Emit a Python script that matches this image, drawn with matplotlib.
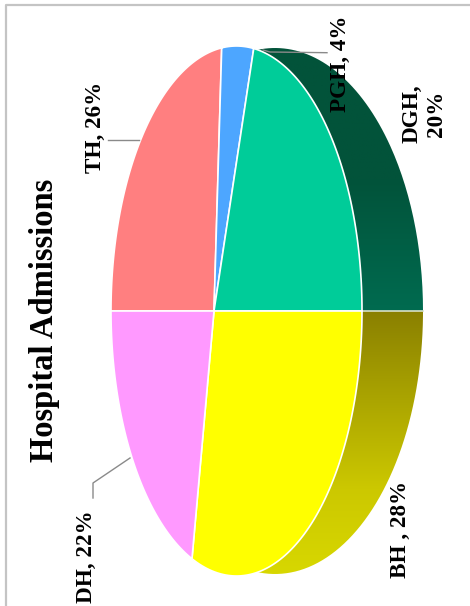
import numpy as np
import matplotlib
matplotlib.use('Agg')
import matplotlib.pyplot as plt
from matplotlib.colors import LinearSegmentedColormap
from matplotlib.patches import PathPatch
from matplotlib.path import Path

labels = ['TH, 26%', 'PGH, 4%', 'DGH,\n20%', 'BH , 28%', 'DH, 22%']
values = [26, 4, 20, 28, 22]
colors = ['#FF7F80', '#4DA6FF', '#00CC99', '#FFFF00', '#FF99FF']
title = 'Hospital Admissions'

# the pie is a tilted 3d pie turned on its side, this is the perspective of the top face
CENTER = (214, 311)
A = 83.1
C = -0.1793
K = 260.7


def top_face(deg):
    t = np.radians(deg)
    u, v = np.cos(t), np.sin(t)
    w = 1 + C * u
    return (A * u + CENTER[0]) / w, CENTER[1] - K * v / w


def bottom_face(deg):
    x, y = top_face(deg)
    return 275 + 148 * (x - 236.5) / 125.5, 311 + (263 / 265) * (y - 311)


fig = plt.figure(figsize=(4.7, 6.06), dpi=100)
ax = fig.add_axes([0, 0, 1, 1])
plt.rcParams['font.family'] = ['Liberation Serif', 'DejaVu Serif']

# slice angles, clockwise from the left
edges = 180 - np.cumsum([0] + values) * 3.6


def side(start, stop, cmap_colors, y0, y1):
    a = np.linspace(start, stop, 120)
    xi, yi = top_face(a)
    xo, yo = bottom_face(a)
    px = np.r_[xi, xo[::-1]]
    py = np.r_[yi, yo[::-1]]
    cmap = LinearSegmentedColormap.from_list('side', cmap_colors)
    grad = np.linspace(0, 1, 256).reshape(-1, 1)
    im = ax.imshow(grad, cmap=cmap, extent=(px.min(), px.max(), y1, y0),
                   aspect='auto', origin='upper', zorder=1)
    patch = PathPatch(Path(np.c_[px, py]), transform=ax.transData, fc='none', ec='none')
    ax.add_patch(patch)
    im.set_clip_path(patch)


# DGH and BH are the two slices with a visible side
side(edges[1], edges[3], ['#02533A', '#02533A', '#006B50'], 48, 311)
side(edges[3], edges[4], ['#8A8000', '#ABA500', '#CCC800', '#D8D800'], 311, 578)
# the two sides meet along a thin pale seam
ax.plot([362, 423], [311, 311], color='#D8E0C8', lw=1.2, zorder=2)

for i in range(len(values)):
    a = np.linspace(edges[i], edges[i + 1], 100)
    x, y = top_face(a)
    ax.fill(np.r_[CENTER[0], x], np.r_[CENTER[1], y], color=colors[i], ec='white', lw=1.2, zorder=3)

# leader lines
ax.plot([108, 139], [140, 140], color='#8A8A8A', lw=1, zorder=4)
ax.plot([263, 270, 327], [50, 52, 52.7], color='#8A8A8A', lw=1, zorder=4)
ax.plot([130, 93, 93], [458, 483, 498], color='#8A8A8A', lw=1, zorder=4)

# page border
ax.plot([6, 6, 470], [606, 5, 5], color='#C4C4C4', lw=1.6, zorder=0)

ax.text(44.5, 320, title, rotation=90, ha='center', va='center', fontsize=23.5, fontweight='bold')
label_pos = [(95, 127), (340, 64), (424, 114), (400, 529), (86, 557)]
for txt, (lx, ly) in zip(labels, label_pos):
    ax.text(lx, ly, txt, rotation=90, ha='center', va='center', fontsize=16.7, fontweight='bold',
            multialignment='center', zorder=5)

ax.set_xlim(0, 470)
ax.set_ylim(606, 0)
ax.axis('off')
fig.savefig('out.png', dpi=100)
